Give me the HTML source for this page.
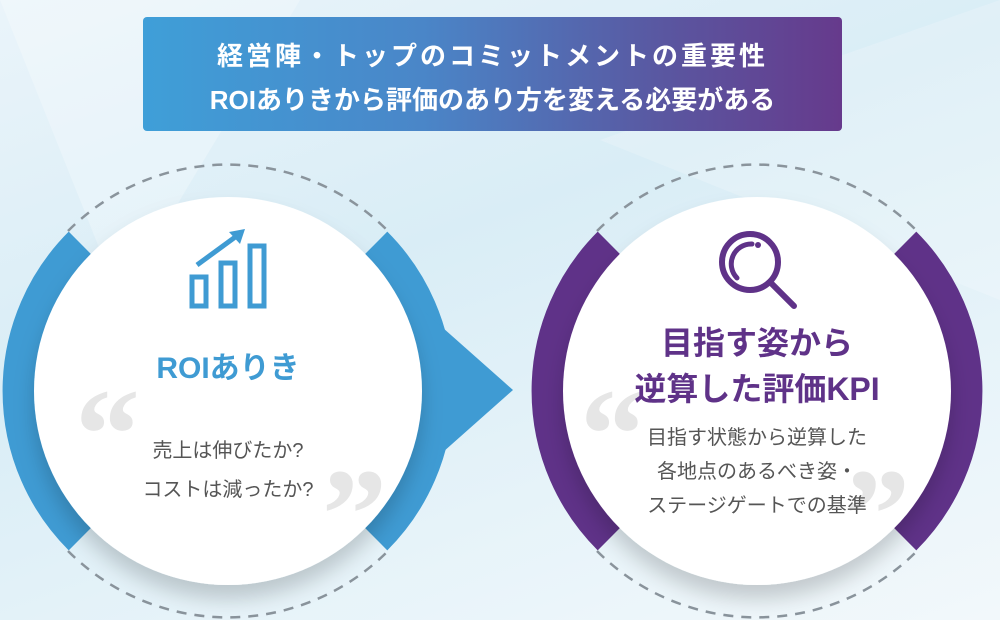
<!DOCTYPE html>
<html><head><meta charset="utf-8"><style>
html,body{margin:0;padding:0}
body{width:1000px;height:620px;overflow:hidden;position:relative;background:linear-gradient(160deg,#eaf4fa 0%,#d9edf6 40%,#e6f3f9 70%,#f2f8fb 100%);font-family:"Liberation Sans","Noto Sans CJK JP",sans-serif}
.hdr{position:absolute;left:143px;top:17px;width:699px;height:114px;border-radius:4px;background:linear-gradient(90deg,#3f9fd8 0%,#4a86c8 40%,#5a56a0 75%,#663a8c 100%);color:#fff;text-align:center;font-weight:bold}
.hdr div{position:absolute;left:0;right:0;font-size:26px}
.t{position:absolute;text-align:center;white-space:nowrap}
</style></head><body>
<svg width="1000" height="620" style="position:absolute;left:0;top:0">
<defs>
<filter id="sh" x="-20%" y="-20%" width="140%" height="150%"><feDropShadow dx="0" dy="14" stdDeviation="10" flood-color="#000" flood-opacity="0.18"/></filter>
</defs>
<polygon points="0,0 300,0 120,300" fill="#ffffff" opacity="0.25"/>
<polygon points="600,140 1000,0 1000,300" fill="#ffffff" opacity="0.2"/>
<g fill="none" stroke="#8a949c" stroke-width="2.5" stroke-dasharray="10 8">
<path d="M68,231 A226,226 0 0 1 388,231"/>
<path d="M68,551 A226,226 0 0 0 388,551"/>
<path d="M597,231 A226,226 0 0 1 917,231"/>
<path d="M597,551 A226,226 0 0 0 917,551"/>
</g>
<path d="M80,243 A209,209 0 0 0 80,539" fill="none" stroke="#3f9bd3" stroke-width="32"/>
<path d="M376,243 A209,209 0 0 1 376,539" fill="none" stroke="#3f9bd3" stroke-width="32"/>
<polygon points="425,312 513,390 425,468" fill="#3f9bd3"/>
<circle cx="228" cy="391" r="194" fill="#fff" filter="url(#sh)"/>
<path d="M609,243 A209,209 0 0 0 609,539" fill="none" stroke="#5f3288" stroke-width="32"/>
<path d="M905,243 A209,209 0 0 1 905,539" fill="none" stroke="#5f3288" stroke-width="32"/>
<circle cx="757" cy="391" r="194" fill="#fff" filter="url(#sh)"/>
<g fill="none" stroke="#3f9bd3" stroke-width="5">
<rect x="192" y="277" width="14" height="29"/><rect x="221" y="263" width="14" height="43"/><rect x="250" y="246" width="14" height="60"/>
<line x1="197" y1="265" x2="238" y2="235"/>
</g>
<polygon points="245,229 229,232 240,244" fill="#3f9bd3"/>
<g fill="none" stroke="#5f3288" stroke-linecap="round">
<circle cx="750" cy="262" r="28" stroke-width="6"/>
<path d="M737,278 A20,20 0 0 1 752,244" stroke-width="5"/>
<line x1="772" y1="284" x2="794" y2="306" stroke-width="6"/>
</g>
<circle cx="758" cy="245" r="3" fill="#5f3288"/>
</svg>
<div class="hdr"><div style="top:19px;letter-spacing:3px">経営陣・トップのコミットメントの重要性</div><div style="top:63px">ROIありきから評価のあり方を変える必要がある</div></div>
<div class="t" style="left:75px;top:370px;font-size:130px;color:#e6e6e6;font-family:'Liberation Serif',serif;font-weight:bold;line-height:130px">“</div>
<div class="t" style="left:322px;top:450px;font-size:130px;color:#e6e6e6;font-family:'Liberation Serif',serif;font-weight:bold;line-height:130px">”</div>
<div class="t" style="left:580px;top:370px;font-size:130px;color:#e6e6e6;font-family:'Liberation Serif',serif;font-weight:bold;line-height:130px">“</div>
<div class="t" style="left:845px;top:450px;font-size:130px;color:#e6e6e6;font-family:'Liberation Serif',serif;font-weight:bold;line-height:130px">”</div>
<div class="t" style="left:128px;width:200px;top:343px;font-size:30px;font-weight:bold;color:#3f9bd3">ROIありき</div>
<div class="t" style="left:78px;width:300px;top:432px;font-size:20px;color:#555;line-height:39px">売上は伸びたか?<br>コストは減ったか?</div>
<div class="t" style="left:557px;width:400px;top:320px;font-size:32px;font-weight:bold;color:#5f3288;line-height:46px">目指す姿から<br>逆算した評価KPI</div>
<div class="t" style="left:557px;width:400px;top:421px;font-size:20px;color:#555;line-height:34px">目指す状態から逆算した<br>各地点のあるべき姿・<br>ステージゲートでの基準</div>
</body></html>
